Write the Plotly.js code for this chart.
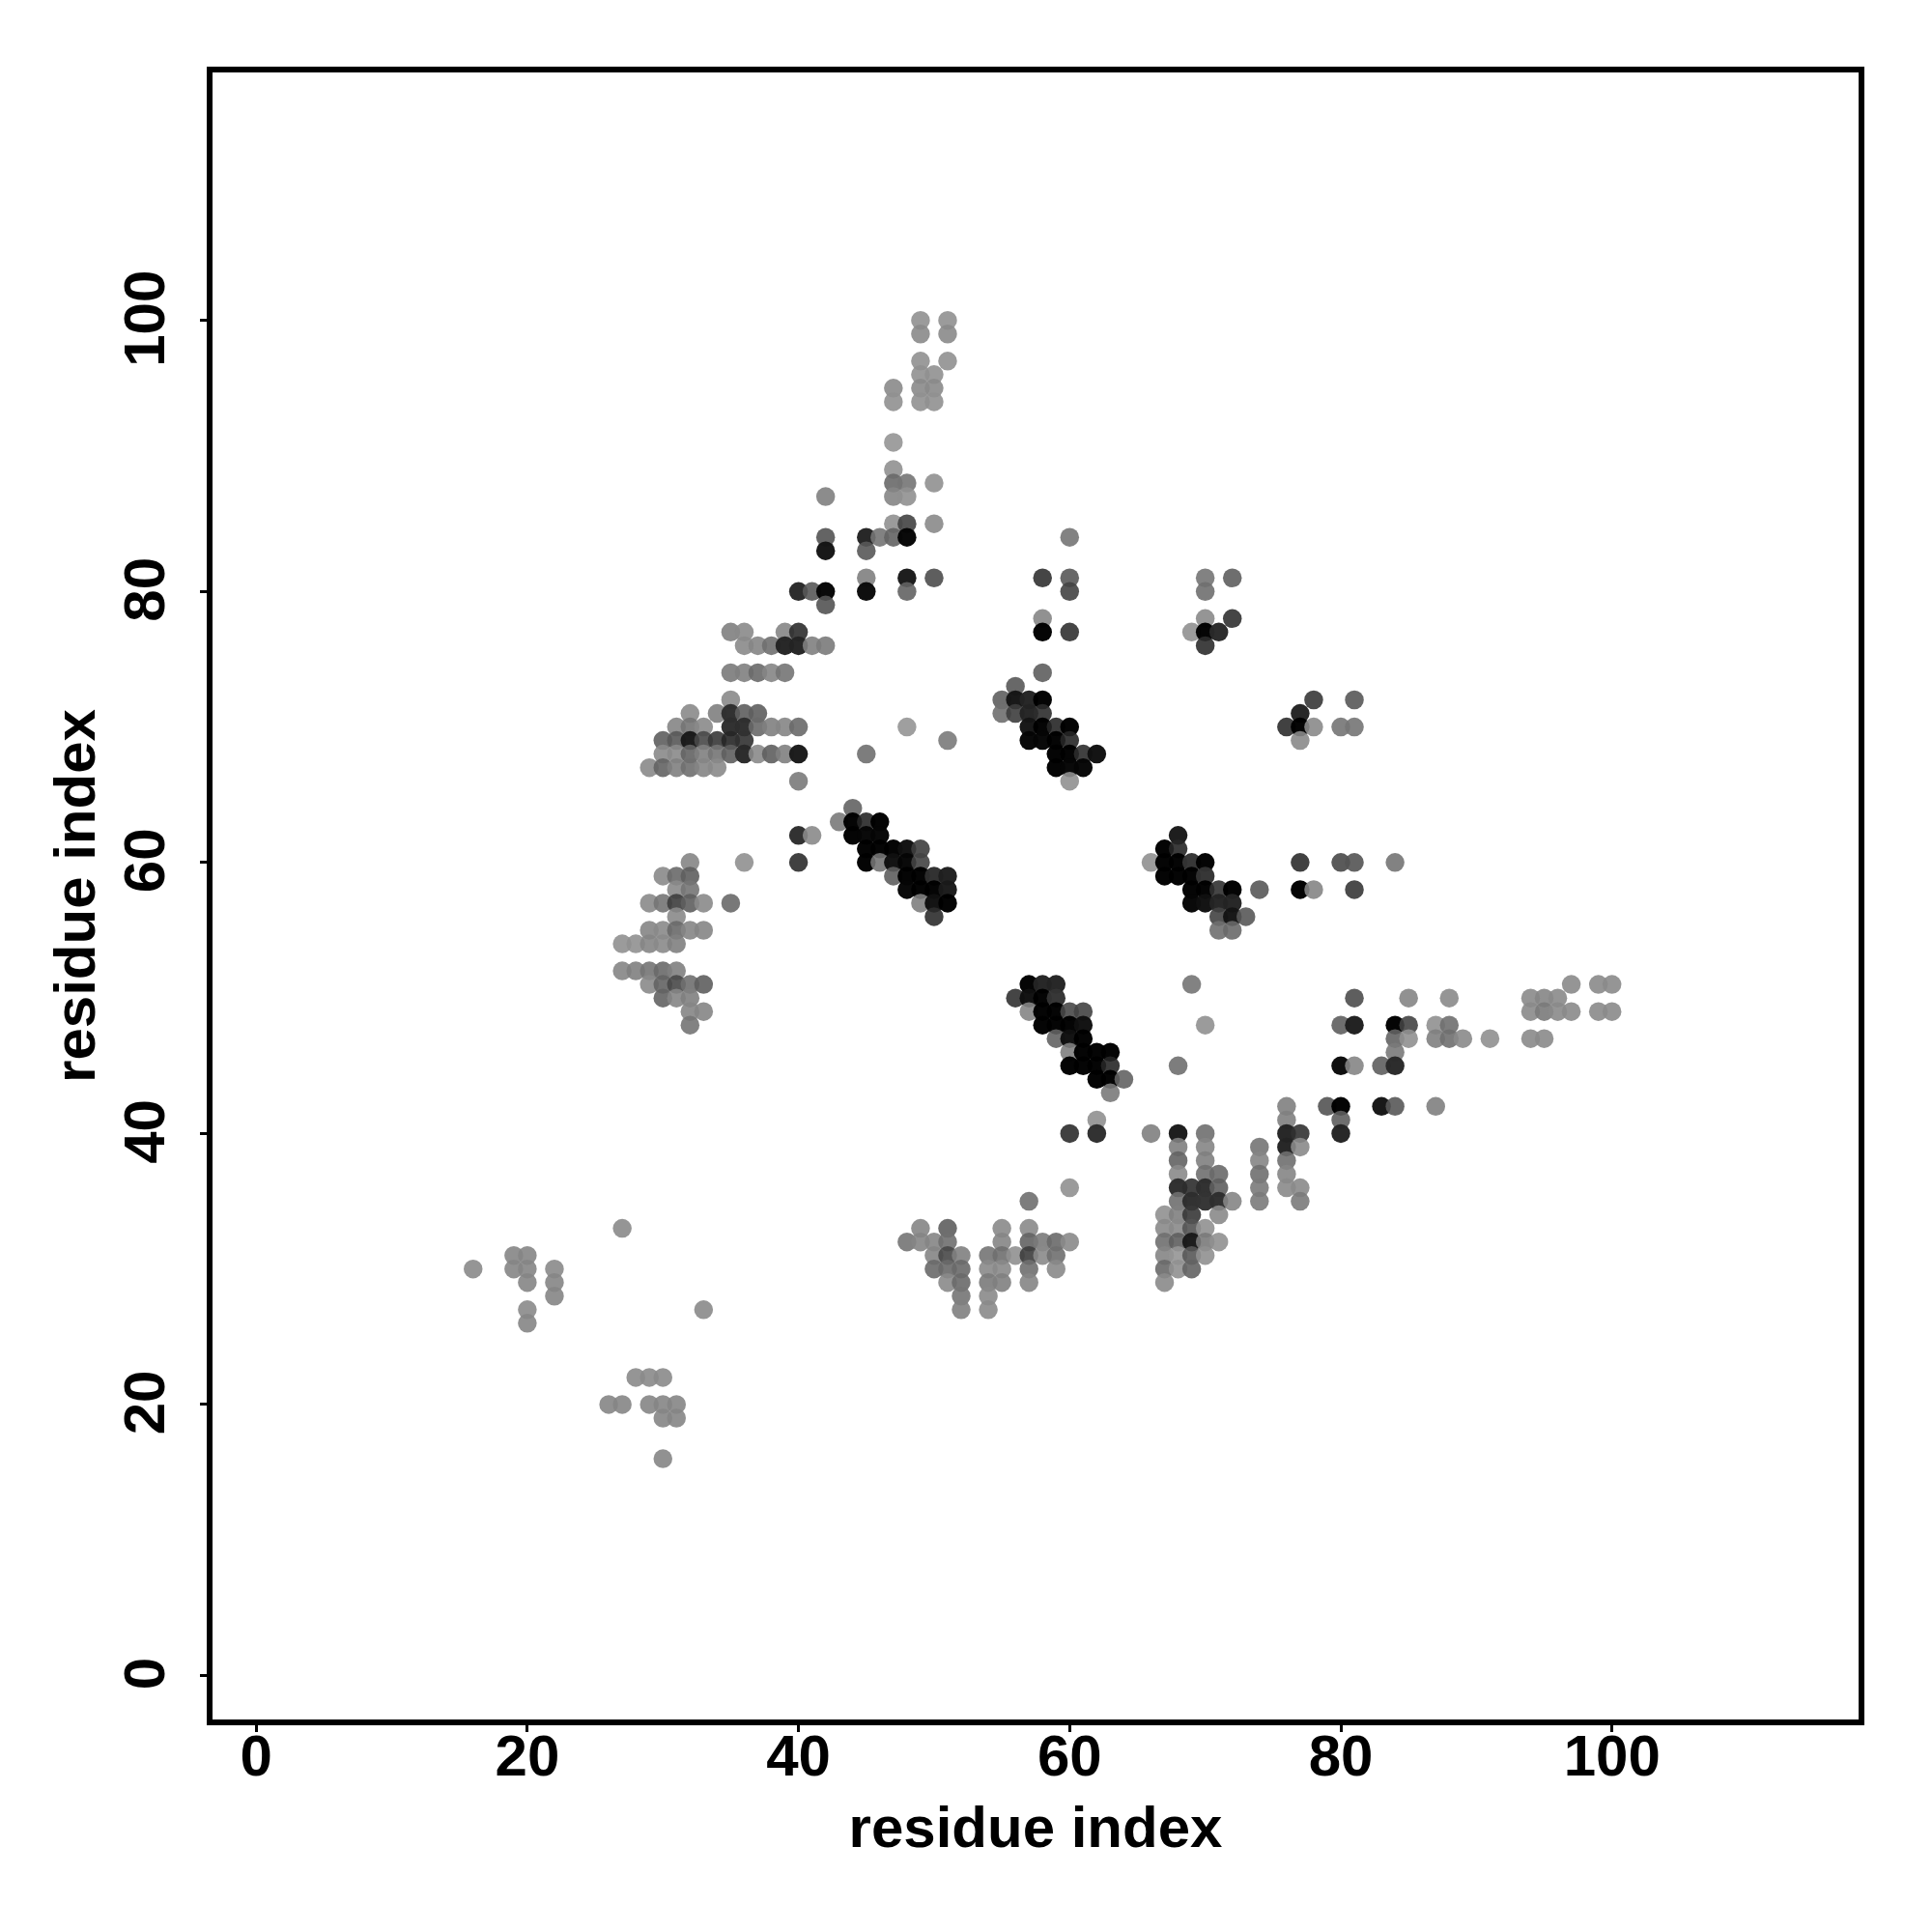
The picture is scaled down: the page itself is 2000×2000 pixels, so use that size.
<!DOCTYPE html>
<html><head><meta charset="utf-8">
<script src="https://cdn.plot.ly/plotly-3.0.1.min.js"></script>
<style>html,body{margin:0;padding:0;background:#fff}</style></head>
<body><div id="chart" style="width:2000px;height:2000px"></div>
<script>
const rowY = [100,99,97,96,95,94,91,89,88,87,85,84,83,81,80,79,78,77,76,74,73,72,71,70,69,68,67,66,64,63,62,61,60,59,58,57,56,55,54,52,51,50,49,48,47,46,45,44,43,42,41,40,39,38,37,36,35,34,33,32,31,30,29,28,27,26,22,20,19,16];
const rowX = [
[49,51],[49,51],[49,51],[49,50],[47,49,50],[47,49,50],[47],[47],[47,48,50],[42,47,48],[47,48,50],
[42,45,46,47,48,60],[42,45],[45,48,50,58,60,70,72],[40,41,42,45,48,60,70],[42],[58,70,72],
[35,36,39,40,58,60,69,70,71],[36,37,38,39,40,41,42,70],[35,36,37,38,39,58],[56],[35,55,56,57,58,78,81],
[32,34,35,36,37,55,56,57,58,77],[31,32,33,35,36,37,38,39,40,48,57,58,59,60,76,77,78,80,81],
[30,31,32,33,34,35,36,51,57,58,59,60,77],[30,31,32,33,34,35,36,37,38,39,40,45,59,60,61,62],
[29,30,31,32,33,34,59,60,61],[40,60],[44],[43,44,45,46],[40,41,44,45,46,68],[45,46,47,48,49,67,68],
[32,36,40,45,46,47,48,49,66,67,68,69,70,77,80,81,84],[30,31,32,47,48,49,50,51,67,68,69,70],
[31,32,48,49,50,51,69,70,71,72,74,77,78,81],[29,30,31,32,33,35,49,50,51,69,70,71,72],[31,50,71,72,73],
[29,30,31,32,33,71,72],[27,28,29,30,31],[27,28,29,30,31],[29,30,31,32,33,57,58,59,69,97,99,100],
[30,31,32,56,57,58,59,81,85,88,94,95,96],[32,33,57,58,59,60,61,94,95,96,97,99,100],
[32,58,59,60,61,70,80,81,84,85,87,88],[59,60,61,84,85,87,88,89,91,94,95],[60,61,62,63,84],
[60,61,62,63,68,80,81,83,84],[62,63,64],[63],[76,79,80,83,84,87],[62,76,80],[60,62,66,68,70,76,77,80],
[68,70,74,76,77],[68,70,74,76],[68,70,71,74,76],[60,68,69,70,71,74,76,77],[57,68,69,70,71,72,74,77],
[67,68,69,71],[27,49,51,55,57,67,68,69,70],[48,49,50,51,55,57,58,59,60,67,68,69,70,71],
[19,20,50,51,52,54,55,56,57,58,59,67,68,69,70],[16,19,20,22,50,51,52,54,55,57,59,67,68,69],
[20,22,51,52,54,55,57,67],[22,52,54],[20,33,52,54],[20],[28,29,30],[26,27,29,30,31],[30,31],[30]
];
const rowShade = [
[155,155],[150,150],[155,155],[155,155],[150,150,150],[155,155,155],[160],[155],[120,130,155],[140,145,155],[155,85,150],
[100,40,130,115,10,130],[25,105],[140,30,95,70,105,130,110],[45,105,10,15,115,85,125],[100],[145,150,70],
[140,150,145,65,5,70,155,5,45],[150,145,125,40,40,140,135,65],[135,140,120,145,130,110],[105],[150,110,25,40,5,75,105],
[150,140,50,110,110,125,80,40,65,40],[145,130,150,50,50,120,140,145,120,160,25,5,60,5,65,5,150,130,130],
[110,105,30,90,75,60,70,135,10,10,5,60,150],[150,150,115,140,130,110,45,150,110,140,30,125,5,5,65,20],
[150,115,140,125,145,150,5,10,10],[135,155],[115],[135,5,60,5],[50,150,5,10,10,30],[5,5,5,20,80,5,60],
[145,155,65,5,130,20,10,85,155,5,5,55,5,65,90,100,130],[150,120,110,110,5,5,50,35,5,5,5,55],
[150,130,10,5,5,30,5,5,70,5,105,5,145,75],[150,130,80,110,150,120,140,20,5,10,20,40,40],[150,65,85,25,105],
[145,150,120,145,145,125,120],[155,155,145,150,140],[145,140,130,120,140],[150,115,90,125,110,5,40,40,130,150,150,150],
[115,145,140,70,20,5,55,95,145,150,150,145,150],[145,145,145,5,5,90,85,150,135,150,150,150,150],
[130,5,5,5,20,155,110,35,5,85,155,125],[115,20,5,115,155,140,125,150,155,150,150],[140,5,5,5,135],
[5,5,5,60,125,15,145,110,45],[5,5,115],[135],[140,100,5,25,105,140],[155,140,110],[65,50,140,30,125,40,70,40],
[140,145,130,40,150],[115,140,145,125],[150,125,120,125,145],[155,50,65,50,110,135,150,150],[125,125,50,55,50,145,135,135],
[155,140,75,150],[150,145,110,150,150,150,150,100,155],[130,145,145,125,145,115,135,120,150,125,110,30,135,155],
[145,145,145,90,140,130,125,155,80,150,125,145,160,105,155],[150,145,145,150,120,120,120,150,150,125,150,120,155,115],
[145,145,150,120,135,140,145,150],[145,130,150],[150,150,140,150],[145],[150,150,150],[145,145,145,145,145],[145,145],[145]
];
const tickValues = [0,20,40,60,80,100];
const axisLabel = "residue index";

const px = [], py = [], colors = [], alphas = [];
rowY.forEach((y, r) => rowX[r].forEach((x, i) => {
  const g = rowShade[r][i];
  const a = g < 60 ? 0.98 : 0.9;
  const c = Math.max(0, Math.round(255 - (255 - g) / a));
  px.push(x); py.push(y); colors.push(`rgb(${c},${c},${c})`); alphas.push(a);
}));

const tickFont = {family: "Liberation Sans, Arial, sans-serif", size: 60, color: "#000", weight: 700};
const titleFont = {family: "Liberation Sans, Arial, sans-serif", size: 60, color: "#000", weight: 700};
const axisCommon = {
  showgrid: false, zeroline: false, showline: true, mirror: true, linecolor: "#000", linewidth: 6,
  tickmode: "array", tickvals: tickValues, ticktext: tickValues.map(String),
  ticks: "outside", ticklen: 7, tickwidth: 3, tickcolor: "#000", tickfont: tickFont, automargin: false
};
Plotly.newPlot("chart", [{
  type: "scatter", mode: "markers", x: px, y: py,
  marker: {size: 19.5, color: colors, opacity: alphas, line: {width: 0}},
  hoverinfo: "skip", cliponaxis: false
}], {
  width: 2000, height: 2000, paper_bgcolor: "#fff", plot_bgcolor: "#fff", showlegend: false,
  margin: {l: 220, r: 76, t: 75, b: 220, pad: 0},
  xaxis: Object.assign({}, axisCommon, {range: [-3.22, 118.19], ticklabelstandoff: -27, automargin: true, title: {text: axisLabel, font: titleFont, standoff: 22}}),
  yaxis: Object.assign({}, axisCommon, {range: [-3.24, 118.3], tickangle: -90, ticklabelstandoff: 13, ticklabelshift: 7, title: {text: axisLabel, font: titleFont, standoff: 0}})
}, {displayModeBar: false, staticPlot: true});
</script></body></html>
